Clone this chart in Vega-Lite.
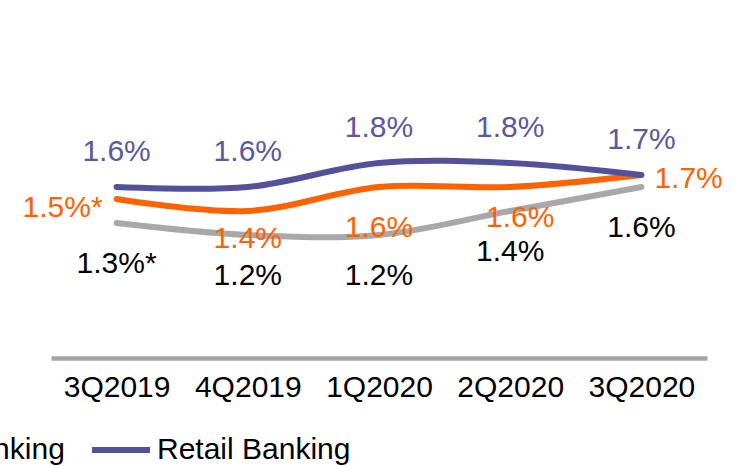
{
  "$schema": "https://vega.github.io/schema/vega-lite/v6.json",
  "width": 656,
  "height": 339,
  "autosize": "none",
  "padding": {"left": 51, "top": 19, "right": 36, "bottom": 109},
  "background": "white",
  "config": {
    "view": {"stroke": null},
    "font": "Liberation Sans",
    "text": {"font": "Liberation Sans", "fontSize": 30}
  },
  "data": {
    "values": [
      {"quarter": "3Q2019", "series": "Wholesale Banking", "value": 1.3, "label": "1.3%*"},
      {"quarter": "4Q2019", "series": "Wholesale Banking", "value": 1.2, "label": "1.2%"},
      {"quarter": "1Q2020", "series": "Wholesale Banking", "value": 1.2, "label": "1.2%"},
      {"quarter": "2Q2020", "series": "Wholesale Banking", "value": 1.4, "label": "1.4%"},
      {"quarter": "3Q2020", "series": "Wholesale Banking", "value": 1.6, "label": "1.6%"},
      {"quarter": "3Q2019", "series": "Total", "value": 1.5, "label": "1.5%*"},
      {"quarter": "4Q2019", "series": "Total", "value": 1.4, "label": "1.4%"},
      {"quarter": "1Q2020", "series": "Total", "value": 1.6, "label": "1.6%"},
      {"quarter": "2Q2020", "series": "Total", "value": 1.6, "label": "1.6%"},
      {"quarter": "3Q2020", "series": "Total", "value": 1.7, "label": "1.7%"},
      {"quarter": "3Q2019", "series": "Retail Banking", "value": 1.6, "label": "1.6%"},
      {"quarter": "4Q2019", "series": "Retail Banking", "value": 1.6, "label": "1.6%"},
      {"quarter": "1Q2020", "series": "Retail Banking", "value": 1.8, "label": "1.8%"},
      {"quarter": "2Q2020", "series": "Retail Banking", "value": 1.8, "label": "1.8%"},
      {"quarter": "3Q2020", "series": "Retail Banking", "value": 1.7, "label": "1.7%"}
    ]
  },
  "encoding": {
    "x": {
      "field": "quarter",
      "type": "ordinal",
      "sort": ["3Q2019", "4Q2019", "1Q2020", "2Q2020", "3Q2020"],
      "scale": {"type": "point", "padding": 0.5},
      "axis": {
        "title": null,
        "ticks": false,
        "grid": false,
        "domainColor": "#A6A6A6",
        "domainWidth": 4.5,
        "labelFont": "Liberation Sans",
        "labelFontSize": 30,
        "labelColor": "#000000",
        "labelPadding": 14,
        "labelAngle": 0
      }
    },
    "y": {
      "field": "value",
      "type": "quantitative",
      "scale": {"domain": [0.175, 3.0], "nice": false, "zero": false},
      "axis": null
    }
  },
  "layer": [
    {
      "mark": {"type": "line", "interpolate": "catmull-rom", "strokeWidth": 6, "strokeCap": "round"},
      "encoding": {
        "color": {
          "field": "series",
          "type": "nominal",
          "scale": {
            "domain": ["Total", "Wholesale Banking", "Retail Banking"],
            "range": ["#FF6200", "#A8A8A8", "#525199"]
          },
          "legend": {
            "title": null,
            "orient": "none",
            "direction": "horizontal",
            "legendX": -467,
            "legendY": 399,
            "symbolType": "stroke",
            "symbolSize": 3364,
            "symbolStrokeWidth": 6,
            "labelFont": "Liberation Sans",
            "labelFontSize": 30,
            "labelColor": "#000000",
            "labelOffset": 4,
            "columnPadding": 15,
            "labelLimit": 400
          }
        }
      }
    },
    {
      "transform": [{"filter": "datum.series === 'Retail Banking'"}],
      "mark": {"type": "text", "dy": -26, "baseline": "alphabetic", "align": "center", "color": "#5A58A0", "fontSize": 30},
      "encoding": {"text": {"field": "label"}}
    },
    {
      "transform": [{"filter": "datum.series === 'Wholesale Banking'"}],
      "mark": {"type": "text", "dy": 50, "baseline": "alphabetic", "align": "center", "color": "#000000", "fontSize": 30},
      "encoding": {"text": {"field": "label"}}
    },
    {
      "transform": [{"filter": "datum.series === 'Total' && datum.quarter === '3Q2019'"}],
      "mark": {"type": "text", "dx": -14, "dy": 18, "baseline": "alphabetic", "align": "right", "color": "#FF6200", "fontSize": 30},
      "encoding": {"text": {"field": "label"}}
    },
    {
      "transform": [{"filter": "datum.series === 'Total' && datum.quarter === '4Q2019'"}],
      "mark": {"type": "text", "dy": 37, "baseline": "alphabetic", "align": "center", "color": "#FF6200", "fontSize": 30},
      "encoding": {"text": {"field": "label"}}
    },
    {
      "transform": [{"filter": "datum.series === 'Total' && datum.quarter === '1Q2020'"}],
      "mark": {"type": "text", "dy": 50, "baseline": "alphabetic", "align": "center", "color": "#FF6200", "fontSize": 30},
      "encoding": {"text": {"field": "label"}}
    },
    {
      "transform": [{"filter": "datum.series === 'Total' && datum.quarter === '2Q2020'"}],
      "mark": {"type": "text", "dx": 10, "dy": 40, "baseline": "alphabetic", "align": "center", "color": "#FF6200", "fontSize": 30},
      "encoding": {"text": {"field": "label"}}
    },
    {
      "transform": [{"filter": "datum.series === 'Total' && datum.quarter === '3Q2020'"}],
      "mark": {"type": "text", "dx": 13, "dy": 13, "baseline": "alphabetic", "align": "left", "color": "#FF6200", "fontSize": 30},
      "encoding": {"text": {"field": "label"}}
    }
  ]
}
